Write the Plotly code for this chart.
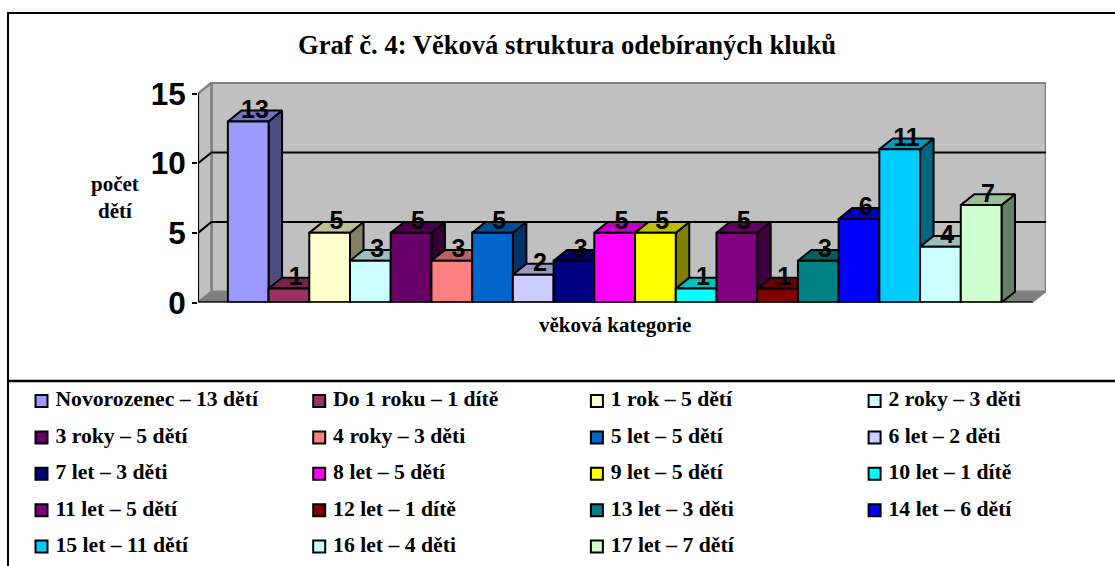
import plotly.graph_objects as go

W, H = 1115, 566

categories = ["Novorozenec", "Do 1 roku", "1 rok", "2 roky", "3 roky", "4 roky", "5 let", "6 let",
              "7 let", "8 let", "9 let", "10 let", "11 let", "12 let", "13 let", "14 let",
              "15 let", "16 let", "17 let"]
values = [13, 1, 5, 3, 5, 3, 5, 2, 3, 5, 5, 1, 5, 1, 3, 6, 11, 4, 7]
units = ["dětí", "dítě", "dětí", "děti", "dětí", "děti", "dětí", "děti", "děti", "dětí",
         "dětí", "dítě", "dětí", "dítě", "děti", "dětí", "dětí", "děti", "dětí"]
colors = ["#9999FF", "#993366", "#FFFFCC", "#CCFFFF", "#660066", "#FF8080", "#0066CC", "#CCCCFF",
          "#000080", "#FF00FF", "#FFFF00", "#00FFFF", "#800080", "#800000", "#008080", "#0000FF",
          "#00CCFF", "#CCFFFF", "#CCFFCC"]
y_ticks = [0, 5, 10, 15]

TITLE = "Graf č. 4: Věková struktura odebíraných kluků"
Y_TITLE = "počet<br>dětí"
X_TITLE = "věková kategorie"

# plot-frame geometry in pixels
PX_LEFT, PX_RIGHT, PX_BOTTOM, PX_TOP = 198.0, 1046.0, 302.5, 82.0
PX_PER_CAT = 40.72
PX_PER_UNIT = 13.93
PX_FIRST_CENTER = 248.2
DX = 13.5 / PX_PER_CAT      # depth of the 3-D effect in axis units
DY = 10.8 / PX_PER_UNIT
X0 = (PX_LEFT - PX_FIRST_CENTER) / PX_PER_CAT
X1 = (PX_RIGHT - PX_FIRST_CENTER) / PX_PER_CAT
XF = X1 - DX
Y1 = (PX_BOTTOM - PX_TOP) / PX_PER_UNIT
YM = y_ticks[-1]


def shade(hex_color, k):
    r, g, b = (int(hex_color[i:i + 2], 16) for i in (1, 3, 5))
    return f"rgb({round(r * k)},{round(g * k)},{round(b * k)})"


fig = go.Figure()


def poly(xs, ys, fill, line="#000000", lw=2, axes=("x", "y")):
    fig.add_trace(go.Scatter(x=xs, y=ys, mode="lines", fill="toself", fillcolor=fill,
                             line=dict(color=line, width=lw), hoverinfo="skip", showlegend=False,
                             cliponaxis=False, xaxis=axes[0], yaxis=axes[1]))


def seg(xs, ys, color="#000000", lw=2, axes=("x", "y")):
    fig.add_trace(go.Scatter(x=xs, y=ys, mode="lines", line=dict(color=color, width=lw),
                             hoverinfo="skip", showlegend=False, cliponaxis=False,
                             xaxis=axes[0], yaxis=axes[1]))


# walls and floor
poly([X0 + DX, X1, X1, X0 + DX, X0 + DX], [DY, DY, YM + DY, YM + DY, DY], "#C0C0C0", "#808080", 2.5)
poly([X0, X0 + DX, X0 + DX, X0, X0], [0, DY, YM + DY, YM, 0], "#C0C0C0", "#808080", 2.5)
poly([X0, X0 + DX, X1, XF, X0], [0, DY, DY, 0, 0], "#808080", "#808080", 1)

# gridlines
for t in y_ticks[1:-1]:
    seg([X0, X0 + DX, X1], [t, t + DY, t + DY], lw=2)

# side and top faces of the columns
for i, (v, c) in enumerate(zip(values, colors)):
    l, r = i - 0.5, i + 0.5
    poly([r, r + DX, r + DX, r, r], [0, DY, v + DY, v, 0], shade(c, 0.5))
    poly([l, l + DX, r + DX, r, l], [v, v + DY, v + DY, v, v], shade(c, 0.75))

# front faces of the columns (on an overlay so they hide neighbours' sides)
fig.add_trace(go.Bar(x=list(range(len(values))), y=values, width=1.0,
                     marker=dict(color=colors, line=dict(color="#000000", width=2)),
                     showlegend=False, hoverinfo="skip", xaxis="x2", yaxis="y2", cliponaxis=False))

# axis lines
seg([X0, X0], [0, YM], axes=("x2", "y2"))
seg([X0, XF], [0, 0], axes=("x2", "y2"), lw=2.5)
seg([XF, XF], [0, -0.3], axes=("x2", "y2"))

# data labels
fig.add_trace(go.Scatter(x=[i + DX / 2 for i in range(len(values))],
                         y=[v + DY * 0.9 for v in values],
                         text=[str(v) for v in values], mode="text", textposition="middle center",
                         textfont=dict(family="Liberation Sans", size=25, color="#000000", weight="bold"),
                         showlegend=False, hoverinfo="skip", cliponaxis=False, xaxis="x2", yaxis="y2"))

# legend panel, four columns
n_cols = 4
leg_x = [(i % n_cols) for i in range(len(categories))]
leg_y = [(i // n_cols) for i in range(len(categories))]
leg_text = [f"{c} – {v} {u}" for c, v, u in zip(categories, values, units)]
fig.add_trace(go.Scatter(x=leg_x, y=leg_y, mode="markers+text", text=[" " + t for t in leg_text],
                         textposition="middle right",
                         textfont=dict(family="Liberation Serif", size=21.7, color="#000000", weight="bold"),
                         marker=dict(symbol="square", size=12, color=colors,
                                     line=dict(color="#000000", width=2)),
                         hoverinfo="skip", showlegend=False, cliponaxis=False, xaxis="x3", yaxis="y3"))

x_dom = [PX_LEFT / W, PX_RIGHT / W]
y_dom = [1 - PX_BOTTOM / H, 1 - PX_TOP / H]
no_axis = dict(visible=False, fixedrange=True)

LEG_X0, LEG_DX = 41.5, 277.7
LEG_Y0, LEG_DY = 401.0, 36.4

fig.update_layout(
    width=W, height=H, autosize=False, margin=dict(l=0, r=0, t=0, b=0, pad=0, autoexpand=False),
    paper_bgcolor="#FFFFFF", plot_bgcolor="rgba(0,0,0,0)", showlegend=False, barmode="overlay",
    xaxis=dict(domain=x_dom, range=[X0, X1], **no_axis),
    yaxis=dict(domain=y_dom, range=[0, Y1], fixedrange=True, showgrid=False, zeroline=False, showline=False,
               tickmode="array", tickvals=y_ticks, ticks="outside", ticklen=5, tickwidth=2, tickcolor="#000000",
               ticklabelstandoff=0,
               tickfont=dict(family="Liberation Sans", size=31.5, color="#000000", weight="bold")),
    xaxis2=dict(overlaying="x", range=[X0, X1], **no_axis),
    yaxis2=dict(overlaying="y", range=[0, Y1], **no_axis),
    xaxis3=dict(domain=[0, 1], range=[-LEG_X0 / LEG_DX, (W - LEG_X0) / LEG_DX], anchor="y3", **no_axis),
    yaxis3=dict(domain=[0, 1 - 381 / H], range=[(H - LEG_Y0) / LEG_DY, (381 - LEG_Y0) / LEG_DY], anchor="x3", **no_axis),
    annotations=[
        dict(text=TITLE, x=566.5 / W, y=1 - 45 / H, xref="paper", yref="paper", showarrow=False,
             xanchor="center", yanchor="middle",
             font=dict(family="Liberation Serif", size=26.6, color="#000000", weight="bold")),
        dict(text=Y_TITLE, x=115 / W, y=1 - 197 / H, xref="paper", yref="paper", showarrow=False,
             xanchor="center", yanchor="middle", align="center",
             font=dict(family="Liberation Serif", size=21, color="#000000", weight="bold")),
        dict(text=X_TITLE, x=615 / W, y=1 - 325 / H, xref="paper", yref="paper", showarrow=False,
             xanchor="center", yanchor="middle",
             font=dict(family="Liberation Serif", size=21, color="#000000", weight="bold")),
    ],
    shapes=[
        dict(type="rect", xref="paper", yref="paper", x0=8 / W, x1=1.01, y0=-0.01, y1=1 - 13 / H,
             line=dict(color="#000000", width=2)),
        dict(type="line", xref="paper", yref="paper", x0=8 / W, x1=1, y0=1 - 381 / H, y1=1 - 381 / H,
             line=dict(color="#000000", width=2.5)),
    ],
)

fig.write_html("out.html", config=dict(displayModeBar=False),
               post_script="document.body.style.margin='0';document.documentElement.style.overflow='hidden';")
